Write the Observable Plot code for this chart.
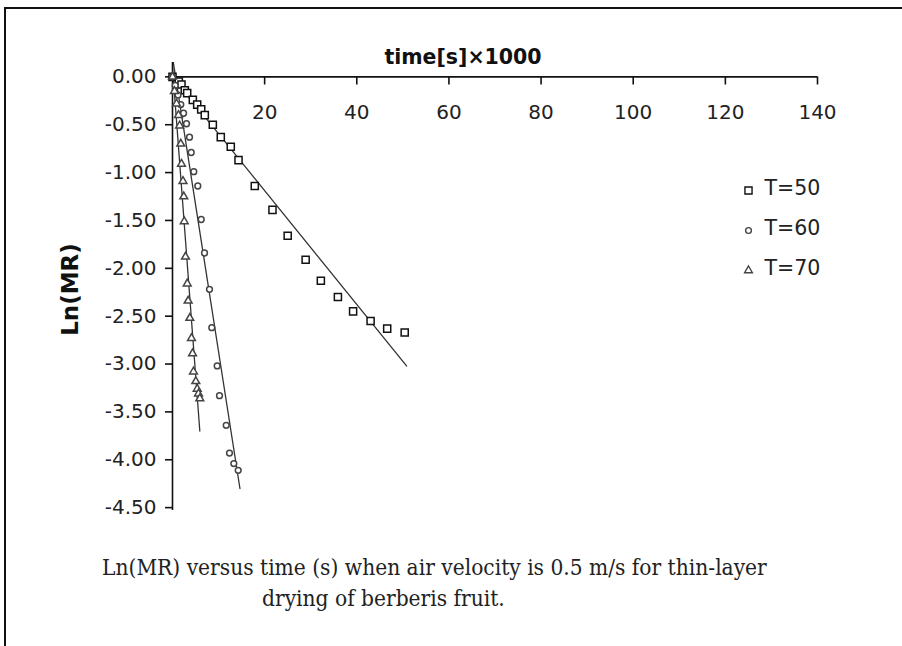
<!DOCTYPE html>
<html><head><meta charset="utf-8">
<script src="https://cdn.jsdelivr.net/npm/d3@7"></script>
<script src="https://cdn.jsdelivr.net/npm/@observablehq/plot@0.6"></script>
<style>
body{margin:0;background:#fff;width:902px;height:646px;overflow:hidden;position:relative;font-family:"DejaVu Sans",sans-serif}
#frame{position:absolute;left:4px;top:7px;right:-10px;bottom:-10px;border-top:2px solid #111;border-left:2px solid #111}
#chart{position:absolute;left:0;top:0}
.cap{position:absolute;font-family:"DejaVu Serif";font-stretch:condensed;font-size:22.5px;line-height:26px;color:#222;white-space:nowrap}
</style></head><body>
<div id="frame"></div>
<div id="chart"></div>
<div class="cap" style="left:102px;top:554px">Ln(MR) versus time (s) when air velocity is 0.5 m/s for thin-layer</div>
<div class="cap" style="left:262px;top:585px">drying of berberis fruit.</div>
<script>
// time [s] x 1000 and Ln(MR)
const time50 = [0, 1.37, 1.95, 2.67, 3.19, 4.41, 5.36, 6.23, 7.01, 8.75, 10.48, 12.65, 14.33, 17.86, 21.7, 25.0, 28.9, 32.2, 35.9, 39.2, 43.0, 46.6, 50.4];
const ln50   = [0, -0.05, -0.08, -0.14, -0.17, -0.24, -0.29, -0.34, -0.40, -0.50, -0.63, -0.73, -0.87, -1.14, -1.39, -1.66, -1.91, -2.13, -2.30, -2.45, -2.55, -2.63, -2.67];
const time60 = [0, 0.6, 1.2, 1.8, 2.4, 3.04, 3.69, 4.06, 4.62, 5.49, 6.23, 6.95, 8.03, 8.53, 9.70, 10.2, 11.66, 12.37, 13.31, 14.26];
const ln60   = [0, -0.09, -0.19, -0.29, -0.38, -0.49, -0.63, -0.79, -0.99, -1.14, -1.49, -1.84, -2.22, -2.62, -3.02, -3.33, -3.64, -3.93, -4.04, -4.11];
const time70 = [0, 0.43, 0.87, 1.30, 1.55, 1.80, 1.95, 2.28, 2.45, 2.55, 2.82, 3.2, 3.4, 3.76, 4.12, 4.35, 4.55, 5.06, 5.36, 5.64, 5.93];
const ln70   = [0, -0.15, -0.28, -0.40, -0.51, -0.70, -0.91, -1.09, -1.25, -1.51, -1.88, -2.16, -2.34, -2.52, -2.73, -2.89, -3.08, -3.18, -3.26, -3.31, -3.36];
// fitted straight lines (end points)
const fit50x = [0, 50.8], fit50y = [0, -3.02];
const fit60x = [0, 14.64], fit60y = [0.206, -4.30];
const fit70x = [0, 5.93], fit70y = [0.10, -3.70];
const seriesNames = ["T=50", "T=60", "T=70"];
const xTicks = [20, 40, 60, 80, 100, 120, 140];
const yTicks = [0, -0.5, -1, -1.5, -2, -2.5, -3, -3.5, -4, -4.5];
const xTitle = "time[s]×1000";
const yTitle = "Ln(MR)";

const pts = (xs, ys) => xs.map((x, i) => ({x, y: ys[i]}));
const P50 = pts(time50, ln50), P60 = pts(time60, ln60), P70 = pts(time70, ln70);
const L50 = pts(fit50x, fit50y), L60 = pts(fit60x, fit60y), L70 = pts(fit70x, fit70y);
const symbols = ["square", "circle", "triangle"];
const sizes = [4, 2.9, 2.9];
const strokes = ["#111", "#444", "#444"];

const legendMarks = seriesNames.flatMap((s, i) => [
  Plot.dot([s], {frameAnchor: "top-right", dx: -69, dy: 128 + i * 40, symbol: symbols[i], r: sizes[i], stroke: strokes[i], fill: "white", strokeWidth: 1.4}),
  Plot.text([s], {frameAnchor: "top-right", dx: -53, dy: 126 + i * 40, textAnchor: "start", lineAnchor: "middle", fontSize: 20.5, fill: "#222"})
]);

const chart = Plot.plot({
  width: 902, height: 530,
  marginLeft: 172, marginRight: 85, marginTop: 62, marginBottom: 20,
  x: {domain: [0, 140], axis: null},
  y: {domain: [-4.53, 0.15], axis: null},
  style: {fontFamily: "'DejaVu Sans', sans-serif", background: "transparent"},
  marks: [
    Plot.line(L50, {x: "x", y: "y", stroke: "#333", strokeWidth: 1.3, clip: true}),
    Plot.line(L60, {x: "x", y: "y", stroke: "#333", strokeWidth: 1.3, clip: true}),
    Plot.line(L70, {x: "x", y: "y", stroke: "#333", strokeWidth: 1.3, clip: true}),
    Plot.ruleX([0], {stroke: "#111", strokeWidth: 1.6}),
    Plot.ruleY([0], {stroke: "#111", strokeWidth: 1.6}),
    Plot.ruleX(xTicks, {x: d => d, y1: 0, y2: -0.085, stroke: "#111", strokeWidth: 1.6}),
    Plot.text(xTicks, {x: d => d, y: 0, dy: 36, text: d => String(d), fontSize: 20, fill: "#222"}),
    Plot.axisY(yTicks, {tickSize: 7, tickPadding: 9, tickFormat: d => d.toFixed(2), fontSize: 20, label: null, stroke: "#111", strokeWidth: 1.6, color: "#222"}),
    Plot.dot(P50, {x: "x", y: "y", symbol: "square", r: sizes[0], stroke: strokes[0], fill: "white", strokeWidth: 1.5}),
    Plot.dot(P60, {x: "x", y: "y", symbol: "circle", r: sizes[1], stroke: strokes[1], fill: "white", strokeWidth: 1.5}),
    Plot.dot(P70, {x: "x", y: "y", symbol: "triangle", r: sizes[2], stroke: strokes[2], fill: "white", strokeWidth: 1.5}),
    Plot.text([xTitle], {frameAnchor: "top", dx: -32, dy: -5, lineAnchor: "middle", fontSize: 20.5, fontWeight: "bold", fill: "#111"}),
    Plot.text([yTitle], {frameAnchor: "left", dx: -102, dy: 3, rotate: -90, textAnchor: "middle", lineAnchor: "middle", fontSize: 23, fontWeight: "bold", fill: "#111"}),
    ...legendMarks
  ]
});
document.getElementById("chart").appendChild(chart);
</script>
</body></html>
